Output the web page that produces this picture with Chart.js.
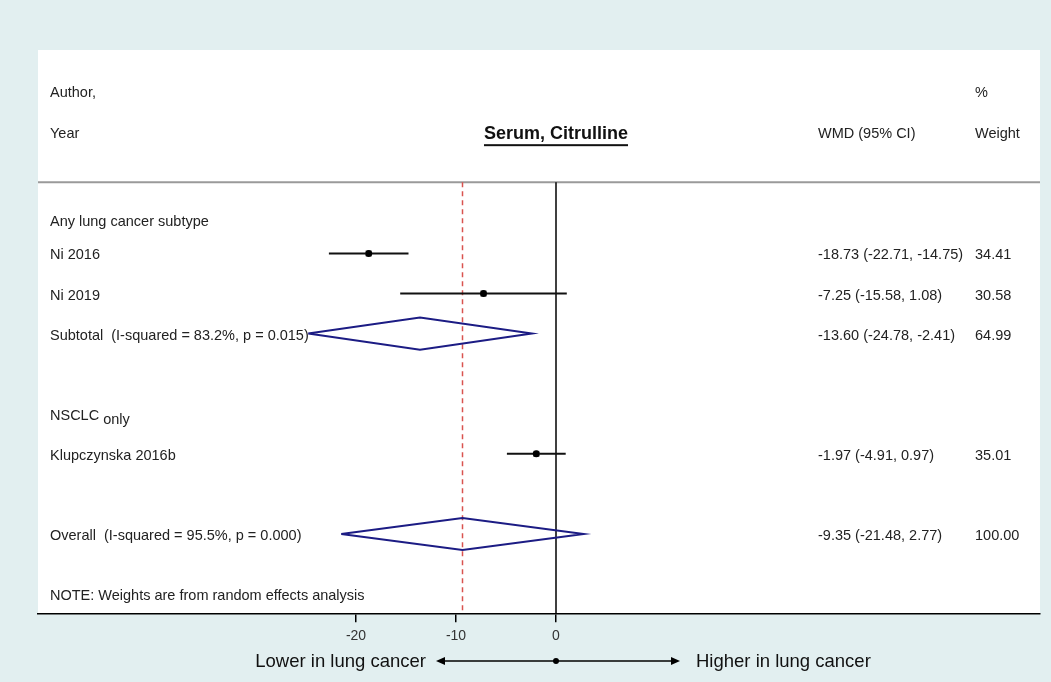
<!DOCTYPE html>
<html>
<head>
<meta charset="utf-8">
<script src="https://cdn.jsdelivr.net/npm/chart.js@4.4.1/dist/chart.umd.min.js"></script>
<style>
html,body{margin:0;padding:0;background:#e2eff0;}
canvas{display:block;}
</style>
</head>
<body>
<canvas id="c" width="1051" height="682"></canvas>
<script>
// ---- data ----
const studyLabels = ["Ni 2016", "Ni 2019", "Klupczynska 2016b"];
const studyRows = [1, 2, 6];
const studyEst = [-18.73, -7.25, -1.97];
const studyLo = [-22.71, -15.58, -4.91];
const studyHi = [-14.75, 1.08, 0.97];
const studyWeight = ["34.41", "30.58", "35.01"];

const pooledLabels = ["Subtotal  (I-squared = 83.2%, p = 0.015)", "Overall  (I-squared = 95.5%, p = 0.000)"];
const pooledRows = [3, 8];
const pooledEst = [-13.60, -9.35];
const pooledLo = [-24.78, -21.48];
const pooledHi = [-2.41, 2.77];
const pooledWeight = ["64.99", "100.00"];

const groupLabels = ["Any lung cancer subtype", "NSCLC"];
const groupRows = [0.175, 5];

const xTicks = [-20, -10, 0];
const overallLine = -9.35;
const nullLine = 0;

const title = "Serum, Citrulline";
const noteText = "NOTE: Weights are from random effects analysis";
const leftArrowLabel = "Lower in lung cancer";
const rightArrowLabel = "Higher in lung cancer";

// ---- layout constants (rows) ----
const ROW_AUTHOR = -3.05, ROW_YEAR = -2.025, ROW_SEP = -0.775, ROW_NOTE = 9.5;
const Y_MIN = -4.075, Y_MAX = 10;
const DIAMOND_HALF = 0.4;

const datasets = [];
// vertical reference lines
datasets.push({type:'line', order:10, data:[{x:nullLine,y:ROW_SEP},{x:nullLine,y:Y_MAX}], borderColor:'#000', borderWidth:1.5, pointRadius:0});
datasets.push({type:'line', order:9, data:[{x:overallLine,y:ROW_SEP},{x:overallLine,y:Y_MAX}], borderColor:'#d9534f', borderWidth:1.5, borderDash:[5,4], pointRadius:0});
// study CIs
studyRows.forEach((r,i)=>{
  datasets.push({type:'line', order:5, data:[{x:studyLo[i],y:r},{x:studyHi[i],y:r}], borderColor:'#111', borderWidth:2, pointRadius:0});
});
// weight boxes
datasets.push({type:'scatter', order:3, data:studyRows.map((r,i)=>({x:studyEst[i],y:r})), pointStyle:'rect', pointRadius:4.5, backgroundColor:'#a0a0a0', borderColor:'#a0a0a0', borderWidth:0});
// point estimates
datasets.push({type:'scatter', order:1, data:studyRows.map((r,i)=>({x:studyEst[i],y:r})), pointStyle:'circle', pointRadius:3.5, backgroundColor:'#000', borderColor:'#000', borderWidth:0});
// diamonds
pooledRows.forEach((r,i)=>{
  datasets.push({type:'line', order:2, data:[
    {x:pooledLo[i],y:r},{x:pooledEst[i],y:r-DIAMOND_HALF},{x:pooledHi[i],y:r},{x:pooledEst[i],y:r+DIAMOND_HALF},{x:pooledLo[i],y:r}
  ], borderColor:'#1c1c84', borderWidth:2, pointRadius:0, fill:false, tension:0});
});

const FONT = '"Liberation Sans", Arial, sans-serif';

const panelPlugin = {
  id:'panel',
  beforeDraw(chart){
    const {ctx, chartArea:a} = chart;
    ctx.save();
    ctx.fillStyle = '#e2eff0';
    ctx.fillRect(0,0,chart.width,chart.height);
    ctx.fillStyle = '#ffffff';
    ctx.fillRect(a.left, a.top, a.right-a.left, a.bottom-a.top);
    const y = chart.scales.y;
    ctx.strokeStyle = '#9a9a9a';
    ctx.lineWidth = 2;
    ctx.beginPath();
    ctx.moveTo(a.left, y.getPixelForValue(ROW_SEP));
    ctx.lineTo(a.right, y.getPixelForValue(ROW_SEP));
    ctx.stroke();
    ctx.restore();
  },
  afterDraw(chart){
    const {ctx} = chart;
    const xs = chart.scales.x, ys = chart.scales.y;
    const LX = 50, WX = 818, PX = 975, DY = 2;
    const f = v => v.toFixed(2);
    ctx.save();
    ctx.fillStyle = '#222';
    ctx.textBaseline = 'middle';
    ctx.textAlign = 'left';
    ctx.font = '14.5px ' + FONT;
    ctx.fillText('Author,', LX, ys.getPixelForValue(ROW_AUTHOR) + DY);
    ctx.fillText('Year', LX, ys.getPixelForValue(ROW_YEAR) + DY);
    ctx.fillText('%', PX, ys.getPixelForValue(ROW_AUTHOR) + DY);
    ctx.fillText('Weight', PX, ys.getPixelForValue(ROW_YEAR) + DY);
    ctx.fillText('WMD (95% CI)', WX, ys.getPixelForValue(ROW_YEAR) + DY);
    // title
    ctx.font = 'bold 18px ' + FONT;
    ctx.textAlign = 'center';
    const tx = xs.getPixelForValue(nullLine), ty = ys.getPixelForValue(ROW_YEAR) + DY;
    ctx.fillStyle = '#111';
    ctx.fillText(title, tx, ty);
    const tw = ctx.measureText(title).width;
    ctx.fillRect(tx - tw/2, ty + 10, tw, 2);
    ctx.fillStyle = '#222';
    ctx.textAlign = 'left';
    ctx.font = '14.5px ' + FONT;
    // groups
    groupLabels.forEach((g,i)=>{
      const py = ys.getPixelForValue(groupRows[i]) + DY;
      ctx.fillText(g, LX, py);
      if (g === 'NSCLC') {
        const w = ctx.measureText(g + ' ').width;
        ctx.fillText('only', LX + w, py + 4);
      }
    });
    studyRows.forEach((r,i)=>{
      const py = ys.getPixelForValue(r) + DY;
      ctx.fillText(studyLabels[i], LX, py);
      ctx.fillText(`${f(studyEst[i])} (${f(studyLo[i])}, ${f(studyHi[i])})`, WX, py);
      ctx.fillText(studyWeight[i], PX, py);
    });
    pooledRows.forEach((r,i)=>{
      const py = ys.getPixelForValue(r) + DY;
      ctx.fillText(pooledLabels[i], LX, py);
      ctx.fillText(`${f(pooledEst[i])} (${f(pooledLo[i])}, ${f(pooledHi[i])})`, WX, py);
      ctx.fillText(pooledWeight[i], PX, py);
    });
    ctx.fillText(noteText, LX, ys.getPixelForValue(ROW_NOTE) + DY);
    // arrow row
    const ay = 661;
    const x0 = xs.getPixelForValue(nullLine);
    const xl = x0 - 120, xr = x0 + 124;
    ctx.strokeStyle = '#000'; ctx.fillStyle = '#000'; ctx.lineWidth = 1.5;
    ctx.beginPath(); ctx.moveTo(xl+4, ay); ctx.lineTo(xr-4, ay); ctx.stroke();
    ctx.beginPath(); ctx.moveTo(xl, ay); ctx.lineTo(xl+9, ay-4); ctx.lineTo(xl+9, ay+4); ctx.closePath(); ctx.fill();
    ctx.beginPath(); ctx.moveTo(xr, ay); ctx.lineTo(xr-9, ay-4); ctx.lineTo(xr-9, ay+4); ctx.closePath(); ctx.fill();
    ctx.beginPath(); ctx.arc(x0, ay, 3, 0, Math.PI*2); ctx.fill();
    ctx.font = '18.5px ' + FONT;
    ctx.fillStyle = '#111';
    ctx.textAlign = 'right';
    ctx.fillText(leftArrowLabel, xl - 10, ay + 1);
    ctx.textAlign = 'left';
    ctx.fillText(rightArrowLabel, xr + 16, ay + 1);
    ctx.restore();
  }
};

new Chart(document.getElementById('c'), {
  type:'scatter',
  data:{datasets},
  options:{
    responsive:false,
    animation:false,
    events:[],
    layout:{padding:{left:38, right:11, top:50, bottom:31}},
    plugins:{legend:{display:false}, tooltip:{enabled:false}},
    scales:{
      x:{
        type:'linear', position:'bottom', min:-51.8, max:48.4,
        afterBuildTicks: s => { s.ticks = xTicks.map(v=>({value:v})); },
        ticks:{color:'#333', font:{size:14, family:FONT}, padding:6, callback:v=>String(v)},
        grid:{drawOnChartArea:false, drawTicks:true, tickLength:8, color:'#000', lineWidth:1.5},
        border:{display:true, color:'#000', width:1.5}
      },
      y:{type:'linear', reverse:true, min:Y_MIN, max:Y_MAX, display:false}
    }
  },
  plugins:[panelPlugin]
});
</script>
</body>
</html>
